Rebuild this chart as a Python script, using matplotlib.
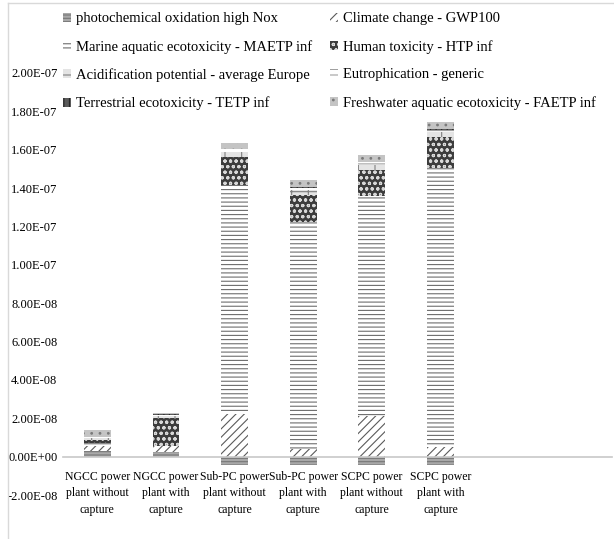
import matplotlib.pyplot as plt
import matplotlib.lines as mlines
import numpy as np

plt.rcParams['font.family'] = 'Liberation Serif'
plt.rcParams['hatch.linewidth'] = 0.8

categories = ['NGCC power\nplant without\ncapture', 'NGCC power\nplant with\ncapture',
              'Sub-PC power\nplant without\ncapture', 'Sub-PC power\nplant with\ncapture',
              'SCPC power\nplant without\ncapture', 'SCPC power\nplant with\ncapture']

series_names = ['photochemical oxidation high Nox', 'Climate change - GWP100',
                'Marine aquatic ecotoxicity - MAETP inf', 'Human toxicity - HTP inf',
                'Acidification potential - average Europe', 'Eutrophication - generic',
                'Terrestrial ecotoxicity - TETP inf', 'Freshwater aquatic ecotoxicity - FAETP inf']

# values in units of 1e-9
photochemical = [3.0, 2.5, -4.6, -4.6, -4.6, -4.6]
climate = [2.5, 3.0, 22.0, 4.0, 21.1, 5.0]
marine = [1.5, 0.3, 119.5, 118.5, 115.0, 145.4]
human = [1.5, 14.5, 14.5, 13.7, 13.4, 16.0]
acidification = [1.0, 1.0, 2.7, 2.6, 2.5, 2.6]
eutrophication = [0.5, 0.5, 1.5, 1.5, 1.5, 1.5]
terrestrial = [0.5, 0.2, 0.3, 0.3, 0.3, 0.3]
freshwater = [3.5, 0.8, 3.2, 3.4, 3.4, 3.4]

yticks = np.arange(-2e-8, 2.01e-7, 2e-8)

series = [photochemical, climate, marine, human, acidification,
          eutrophication, terrestrial, freshwater]
# face, hatch colour, hatch
styles = [('#a8a8a8', '#777777', '-----'),
          ('white', '#5a5a5a', '////'),
          ('white', '#6e6e6e', '----'),
          ('#3c3c3c', '#d8d8d8', 'ooo'),
          ('#e4e4e4', '#808080', '+'),
          ('white', '#a0a0a0', '---'),
          ('#5a5a5a', '#262626', '|||'),
          ('#c4c4c4', '#7a7a7a', '..')]

fig = plt.figure(figsize=(6.14, 5.39), dpi=100)
ax = fig.add_axes([0.1026, 0.0816, 0.894, 0.783])

x = np.arange(len(categories))
pos_base = np.zeros(len(categories))
neg_base = np.zeros(len(categories))
handles = []
for vals, name, (fc, hc, h) in zip(series, series_names, styles):
    v = np.array(vals) * 1e-9
    base = np.where(v >= 0, pos_base, neg_base)
    b = ax.bar(x, v, 0.39, bottom=base, color=fc, edgecolor=hc, hatch=h,
               linewidth=0, label=name)
    handles.append(b)
    pos_base = pos_base + np.where(v >= 0, v, 0)
    neg_base = neg_base + np.where(v < 0, v, 0)

ax.set_xlim(-0.5, 7.5)
ax.set_ylim(-2e-8, 2e-7)
ax.set_yticks(yticks)
ax.set_yticklabels(['{:.2E}'.format(t) if abs(t) > 1e-12 else '0.00E+00'
                    for t in yticks], fontsize=9)
ax.tick_params(axis='y', length=0, pad=4)

ax.spines['bottom'].set_position(('data', 0))
ax.spines['bottom'].set_color('#c8c8c8')
ax.spines['bottom'].set_linewidth(1.2)
for s in ['left', 'top', 'right']:
    ax.spines[s].set_visible(False)
ax.set_xticks(x)
ax.set_xticklabels(categories, fontsize=8.5, linespacing=1.5)
ax.tick_params(axis='x', length=0, pad=10)

# legend is filled row by row in the original
order = [0, 2, 4, 6, 1, 3, 5, 7]
leg = fig.legend(handles=[handles[i] for i in order], loc='upper left',
                 bbox_to_anchor=(0.093, 0.988), ncol=2, frameon=False,
                 fontsize=10.5, handlelength=0.55, handleheight=0.55,
                 handletextpad=0.35, labelspacing=1.0, columnspacing=1.2,
                 borderaxespad=0)

# chart area border (left and top visible)
fig.add_artist(mlines.Line2D([8 / 614, 8 / 614], [0, 1 - 3 / 539], color='#d9d9d9', lw=1))
fig.add_artist(mlines.Line2D([8 / 614, 1], [1 - 3 / 539, 1 - 3 / 539], color='#d9d9d9', lw=1))

fig.savefig('out.png', dpi=100)
